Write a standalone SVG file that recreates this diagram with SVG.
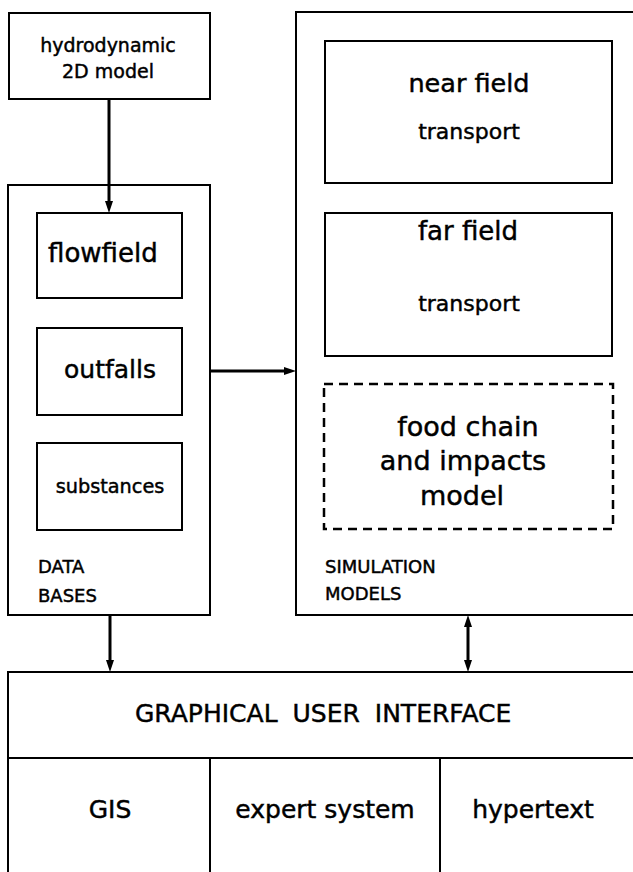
<svg xmlns="http://www.w3.org/2000/svg" width="633" height="872" viewBox="0 0 633 872">
  <style>
    .box { fill: #ffffff; stroke: #000000; stroke-width: 2; }
    .dash { fill: none; stroke: #000000; stroke-width: 2.5; stroke-dasharray: 9 6; }
    .frame { fill: none; stroke: #000000; stroke-width: 2; }
    .link { fill: none; stroke: #000000; stroke-width: 3; }
    text { font-family: "DejaVu Sans", "Liberation Sans", sans-serif; fill: #000000; stroke: #000000; stroke-width: 0.45; }
    .c { text-anchor: middle; }
  </style>
  <defs>
    <marker id="head" markerUnits="userSpaceOnUse" viewBox="0 -5 13 10" markerWidth="13" markerHeight="10" refX="4" refY="0" orient="auto-start-reverse">
      <path d="M0,-4 L12,0 L0,4 Z" fill="#000000"/>
    </marker>
  </defs>

  <rect width="633" height="872" fill="#ffffff"/>

  <!-- hydrodynamic model -->
  <g id="hydro">
    <rect class="box" x="9" y="13" width="201" height="86"/>
    <text class="c" x="108" y="52" font-size="19">hydrodynamic</text>
    <text class="c" x="108" y="78" font-size="19">2D model</text>
  </g>

  <!-- data bases container -->
  <g id="databases">
    <rect class="box" x="8" y="185" width="202" height="430"/>
    <text x="38" y="573" font-size="18">DATA</text>
    <text x="38" y="602" font-size="18">BASES</text>
  </g>
  <g id="flowfield">
    <rect class="box" x="37" y="213" width="145" height="85"/>
    <text x="48" y="262" font-size="26">flowfield</text>
  </g>
  <g id="outfalls">
    <rect class="box" x="37" y="328" width="145" height="87"/>
    <text class="c" x="110" y="378" font-size="25">outfalls</text>
  </g>
  <g id="substances">
    <rect class="box" x="37" y="443" width="145" height="87"/>
    <text class="c" x="110" y="493" font-size="19.3">substances</text>
  </g>

  <!-- simulation models container -->
  <g id="simulation">
    <rect class="box" x="296" y="12" width="360" height="603"/>
    <text x="325" y="573" font-size="18">SIMULATION</text>
    <text x="325" y="600" font-size="18">MODELS</text>
  </g>
  <g id="nearfield">
    <rect class="box" x="325" y="41" width="287" height="142"/>
    <text class="c" x="469" y="92" font-size="25.5">near field</text>
    <text class="c" x="469" y="139" font-size="22">transport</text>
  </g>
  <g id="farfield">
    <rect class="box" x="325" y="213" width="287" height="143"/>
    <text class="c" x="468" y="240" font-size="26">far field</text>
    <text class="c" x="469" y="311" font-size="22">transport</text>
  </g>
  <g id="foodchain">
    <rect class="dash" x="324" y="384" width="289" height="145"/>
    <text class="c" x="468" y="436" font-size="27">food chain</text>
    <text class="c" x="463" y="470" font-size="27">and impacts</text>
    <text class="c" x="462" y="505" font-size="27">model</text>
  </g>

  <!-- user interface -->
  <g id="gui">
    <rect class="box" x="8" y="672" width="650" height="220"/>
    <line class="frame" x1="8" y1="758" x2="633" y2="758"/>
    <line class="frame" x1="210" y1="758" x2="210" y2="872"/>
    <line class="frame" x1="440" y1="758" x2="440" y2="872"/>
    <text x="135" y="722" font-size="25" word-spacing="7">GRAPHICAL USER INTERFACE</text>
  </g>
  <g id="gis">
    <text class="c" x="110" y="818" font-size="25">GIS</text>
  </g>
  <g id="expert">
    <text class="c" x="325" y="818" font-size="25">expert system</text>
  </g>
  <g id="hypertext">
    <text class="c" x="533" y="818" font-size="25">hypertext</text>
  </g>

  <!-- connectors -->
  <g id="connectors">
    <line class="link" x1="109" y1="99" x2="109" y2="205" marker-end="url(#head)"/>
    <line class="link" x1="210" y1="371" x2="288" y2="371" marker-end="url(#head)"/>
    <line class="link" x1="110" y1="615" x2="110" y2="664" marker-end="url(#head)"/>
    <line class="link" x1="468" y1="623" x2="468" y2="664" marker-start="url(#head)" marker-end="url(#head)"/>
  </g>
</svg>
